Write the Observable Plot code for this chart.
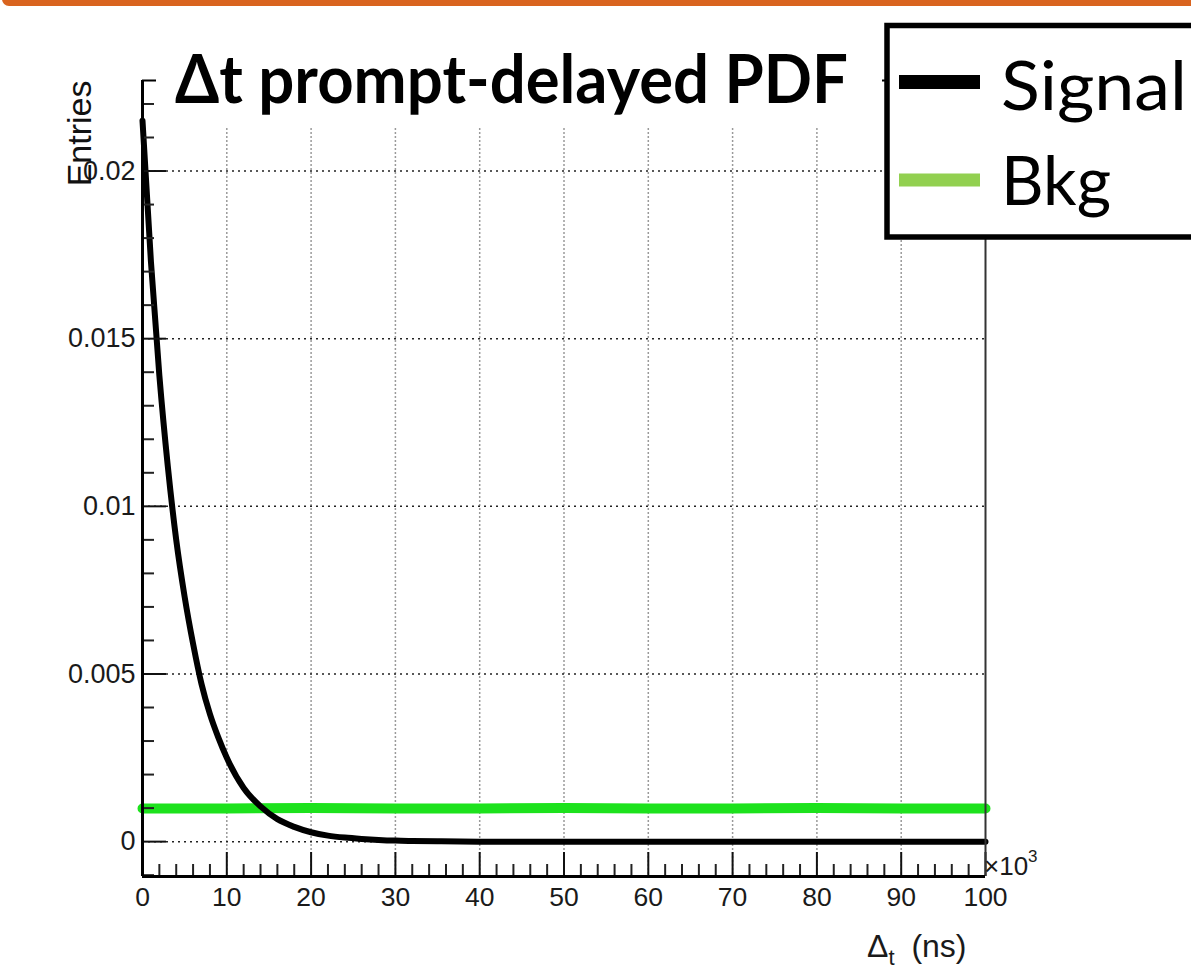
<!DOCTYPE html>
<html><head><meta charset="utf-8">
<script src="https://cdn.jsdelivr.net/npm/d3@7"></script>
<script src="https://cdn.jsdelivr.net/npm/@observablehq/plot@0.6"></script>
<style>
body{margin:0;background:#fff;}
#chart{position:relative;width:1191px;height:973px;overflow:hidden;background:#fff}
</style>
</head><body><div id="chart"></div>
<script>
// ---- data (x in units of 10^3 ns) ----
const signalX = [0, 1, 2, 3, 4, 5, 6, 7, 8, 9, 10, 12, 14, 16, 18, 20, 22, 24, 26, 28, 30, 32, 35, 40, 50, 60, 70, 80, 90, 100];
const signalY = [0.0215, 0.0173, 0.0139, 0.0112, 0.0090, 0.0073, 0.0059, 0.0047, 0.0038, 0.0031, 0.0025, 0.0016, 0.00105, 0.00067, 0.00044, 0.00028, 0.00018, 0.00012, 0.00008, 0.00005, 0.00003, 0.00002, 0.00001, 0, 0, 0, 0, 0, 0, 0];
const bkgX = [0, 10, 20, 30, 40, 50, 60, 70, 80, 90, 100];
const bkgY = [0.00099, 0.00099, 0.00100, 0.00099, 0.00099, 0.00100, 0.00099, 0.00099, 0.00100, 0.00099, 0.00099];
const xTicks = [0, 10, 20, 30, 40, 50, 60, 70, 80, 90, 100];
const xTickLabels = ["0", "10", "20", "30", "40", "50", "60", "70", "80", "90", "100"];
const yTicks = [0, 0.005, 0.01, 0.015, 0.02];
const yTickLabels = ["0", "0.005", "0.01", "0.015", "0.02"];
const xMinorTicks = [2,4,6,8,12,14,16,18,22,24,26,28,32,34,36,38,42,44,46,48,52,54,56,58,62,64,66,68,72,74,76,78,82,84,86,88,92,94,96,98];
const yMinorTicks = [-0.001,0.001,0.002,0.003,0.004,0.006,0.007,0.008,0.009,0.011,0.012,0.013,0.014,0.016,0.017,0.018,0.019,0.021,0.022];
const seriesNames = ["Signal", "Bkg"];
const seriesColors = ["#000000", "#92D050"];
const titleText = "Δt prompt-delayed PDF";
const yLabel = "Entries";

const signal = signalX.map((x, i) => ({x, y: signalY[i]}));
const bkg = bkgX.map((x, i) => ({x, y: bkgY[i]}));

const W = 1191, H = 973;
const mL = 142, mR = 206, mT = 80, mB = 97;
const plotW = W - mL - mR, plotH = H - mT - mB;
const yDom = [-0.00104, 0.0227];

const chart = Plot.plot({
  width: W, height: H,
  marginLeft: mL, marginRight: mR, marginTop: mT, marginBottom: mB,
  style: {fontFamily: "'Liberation Sans', Arial, sans-serif", fontSize: "27px", color: "#1a1a1a", background: "white"},
  x: {domain: [0, 100]},
  y: {domain: yDom},
  marks: [
    Plot.gridX(xTicks.slice(1, -1), {stroke: "#9a9a9a", strokeOpacity: 1, strokeWidth: 1.5, strokeDasharray: "2,2"}),
    Plot.gridY(yTicks, {stroke: "#222", strokeOpacity: 1, strokeWidth: 1.5, strokeDasharray: "2,4"}),
    Plot.line(bkg, {x: "x", y: "y", stroke: "#1de21d", strokeWidth: 10}),
    Plot.line(signal, {x: "x", y: "y", stroke: "black", strokeWidth: 6, curve: "monotone-x"}),
    Plot.tickY(yTicks, {y: d => d, stroke: "#111", strokeWidth: 2, insetRight: plotW - 24}),
    Plot.tickY(yMinorTicks, {y: d => d, stroke: "#222", strokeWidth: 2, insetRight: plotW - 12}),
    Plot.tickX(xTicks, {x: d => d, stroke: "#111", strokeWidth: 2, insetTop: plotH - 24}),
    Plot.tickX(xMinorTicks, {x: d => d, stroke: "#222", strokeWidth: 2, insetTop: plotH - 12}),
    Plot.ruleX([0], {stroke: "#000", strokeWidth: 3}),
    Plot.ruleX([100], {stroke: "#333", strokeWidth: 2}),
    Plot.ruleY([yDom[0]], {stroke: "#000", strokeWidth: 3}),
    Plot.ruleY([yDom[1]], {stroke: "#000", strokeWidth: 2}),
    Plot.axisY(yTicks, {tickSize: 0, tickPadding: 7, label: null, fontSize: 27, fill: "#1a1a1a",
      tickFormat: d => yTickLabels[yTicks.indexOf(d)]}),
    Plot.axisX(xTicks, {tickSize: 0, tickPadding: 11, label: null, fontSize: 26.5, fill: "#1a1a1a",
      tickFormat: d => xTickLabels[xTicks.indexOf(d)]}),
    Plot.text([yLabel], {text: d => d, frameAnchor: "top-left", dx: -76, rotate: -90, textAnchor: "end", fontSize: 34, fill: "#111"})
  ]
});
document.getElementById("chart").appendChild(chart);

const svg = d3.select(chart);
// orange bar at the top
svg.append("rect").attr("x", 2).attr("y", -10).attr("width", W + 20).attr("height", 16).attr("rx", 7).attr("fill", "#D9641F");
// white title box
svg.append("rect").attr("x", 156).attr("y", 7).attr("width", 726).attr("height", 121).attr("fill", "white");
svg.append("text").attr("x", 175).attr("y", 103).attr("text-anchor", "start")
  .attr("font-family", "Lato, 'Open Sans', sans-serif").attr("font-weight", "bold").attr("font-size", 67)
  .attr("textLength", 673).attr("lengthAdjust", "spacingAndGlyphs").attr("fill", "#000").text(titleText);

// legend
const lg = svg.append("g").attr("text-anchor", "start");
lg.append("rect").attr("x", 887).attr("y", 25.5).attr("width", 400).attr("height", 211.5)
  .attr("fill", "white").attr("stroke", "black").attr("stroke-width", 5.5);
const rowsY = [82, 180], textY = [110, 205], swW = [14, 13], textLen = [186, 110];
seriesNames.forEach((name, i) => {
  lg.append("line").attr("x1", 899).attr("x2", 980).attr("y1", rowsY[i]).attr("y2", rowsY[i])
    .attr("stroke", seriesColors[i]).attr("stroke-width", swW[i]);
  lg.append("text").attr("x", 1001).attr("y", textY[i]).attr("text-anchor", "start")
    .attr("font-family", "Lato, 'Open Sans', sans-serif").attr("font-size", 67).attr("fill", "#000")
    .attr("textLength", textLen[i]).attr("lengthAdjust", "spacingAndGlyphs").text(name);
});

// x axis title with subscript
const xt = svg.append("text").attr("x", 867).attr("y", 957).attr("text-anchor", "start")
  .attr("font-family", "'Liberation Sans', Arial, sans-serif").attr("font-size", 32).attr("fill", "#1a1a1a");
xt.append("tspan").text("Δ");
xt.append("tspan").attr("font-size", 22).attr("dy", 8).text("t");
xt.append("tspan").attr("dy", -8).attr("dx", 8).text(" (ns)");

// x10^3 exponent
const ex = svg.append("text").attr("x", 984).attr("y", 875).attr("text-anchor", "start")
  .attr("font-family", "'Liberation Sans', Arial, sans-serif").attr("font-size", 26).attr("fill", "#1a1a1a");
ex.append("tspan").text("×10");
ex.append("tspan").attr("font-size", 17).attr("dy", -13).text("3");
</script>
</body></html>
